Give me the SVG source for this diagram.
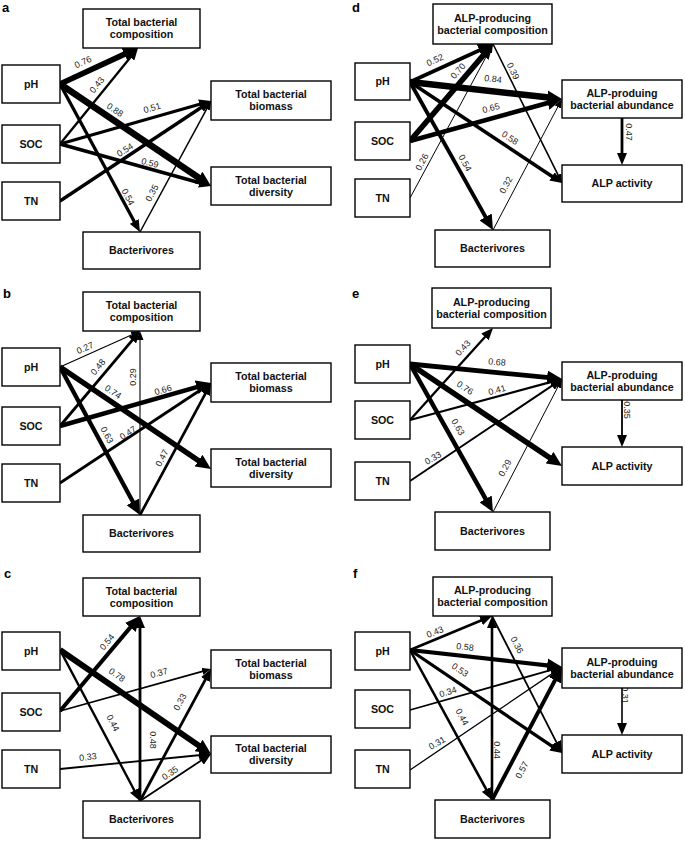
<svg xmlns="http://www.w3.org/2000/svg" width="685" height="842" viewBox="0 0 685 842">
<style>
.bx{fill:#fff;stroke:#000;stroke-width:1.4}
.nt{font-family:"Liberation Sans",Arial,sans-serif;font-weight:bold;font-size:10.7px;text-anchor:middle;fill:#111}
.el{font-family:"Liberation Sans",Arial,sans-serif;font-size:9px;text-anchor:middle;dominant-baseline:central;fill:#222}
.pl{font-family:"Liberation Sans",Arial,sans-serif;font-weight:bold;font-size:13px;fill:#000}
.c{fill:none;stroke:#000;stroke-linecap:butt}
.s{marker-end:url(#hs)}
.m{marker-end:url(#hm)}
.l{marker-end:url(#hl)}
</style>
<defs>
<marker id="hs" markerUnits="userSpaceOnUse" viewBox="0 0 9 7" markerWidth="9" markerHeight="7" refX="2" refY="3.5" orient="auto"><path d="M0,0 L9,3.5 L0,7 z" fill="#000"/></marker>
<marker id="hm" markerUnits="userSpaceOnUse" viewBox="0 0 12 10" markerWidth="12" markerHeight="10" refX="2" refY="5" orient="auto"><path d="M0,0 L12,5 L0,10 z" fill="#000"/></marker>
<marker id="hl" markerUnits="userSpaceOnUse" viewBox="0 0 15 14" markerWidth="15" markerHeight="14" refX="2" refY="7" orient="auto"><path d="M0,0 L15,7 L0,14 z" fill="#000"/></marker>
</defs>
<rect width="685" height="842" fill="#fff"/>

<g id="panel-letters">
<text class="pl" x="2" y="12">a</text>
<text class="pl" x="3" y="298">b</text>
<text class="pl" x="4" y="578">c</text>
<text class="pl" x="352" y="12">d</text>
<text class="pl" x="352" y="298">e</text>
<text class="pl" x="353" y="578">f</text>
</g>

<g id="connectors">
<!-- a -->
<path class="c l" stroke-width="5.6" d="M60,84 L126.2,53.4"/>
<path class="c m" stroke-width="2.3" d="M60,144 L131.7,55.8"/>
<path class="c l" stroke-width="6.5" d="M60,84 L200.2,178.7"/>
<path class="c m" stroke-width="3.1" d="M60,144 L201.4,103.7"/>
<path class="c m" stroke-width="3.6" d="M60,144 L201.4,183.3"/>
<path class="c m" stroke-width="3.3" d="M60,201 L202.7,106.5"/>
<path class="c m" stroke-width="3.3" d="M60,84 L135.2,223.2"/>
<path class="c s" stroke-width="1.5" d="M140,232 L207.7,107.2"/>
<!-- b -->
<path class="c s" stroke-width="1.1" d="M60,367 L133.6,333.9"/>
<path class="c m" stroke-width="2.8" d="M60,426 L133.6,338.6"/>
<path class="c s" stroke-width="1.1" d="M140,515 L140,338"/>
<path class="c l" stroke-width="5.4" d="M60,367 L200.2,461.7"/>
<path class="c l" stroke-width="4.6" d="M60,426 L198.5,386.6"/>
<path class="c m" stroke-width="2.7" d="M60,483 L202.7,388.5"/>
<path class="c l" stroke-width="4.3" d="M60,367 L133.8,503.6"/>
<path class="c m" stroke-width="2.7" d="M140,515 L206.3,391.8"/>
<!-- c -->
<path class="c l" stroke-width="4" d="M60,711 L131.6,625.9"/>
<path class="c m" stroke-width="2.8" d="M140,801 L140,626"/>
<path class="c l" stroke-width="6" d="M60,650 L200.3,746.6"/>
<path class="c s" stroke-width="1.7" d="M60,711 L204.3,670.9"/>
<path class="c m" stroke-width="2.4" d="M60,650 L135.3,792.2"/>
<path class="c m" stroke-width="2.8" d="M140,801 L206.3,677.8"/>
<path class="c m" stroke-width="1.8" d="M60,769 L201,755"/>
<path class="c m" stroke-width="1.8" d="M140,801 L202.7,759.5"/>
<!-- d -->
<path class="c l" stroke-width="3.8" d="M410,82 L481.2,49.4"/>
<path class="c l" stroke-width="5.5" d="M410,141 L484.5,53.9"/>
<path class="c s" stroke-width="1" d="M410,198 L489.7,50.2"/>
<path class="c l" stroke-width="6.5" d="M410,82 L549.1,97.6"/>
<path class="c l" stroke-width="4.5" d="M410,141 L549.5,102.5"/>
<path class="c m" stroke-width="3.6" d="M410,82 L553.7,177.5"/>
<path class="c l" stroke-width="3.8" d="M410,82 L486.6,218.7"/>
<path class="c s" stroke-width="1.6" d="M493,44 L558.9,176.7"/>
<path class="c s" stroke-width="1" d="M493,230 L558.7,105.2"/>
<path class="c m" stroke-width="2.8" d="M622,118 L622,155"/>
<!-- e -->
<path class="c m" stroke-width="2.3" d="M410,420 L486.3,335.4"/>
<path class="c l" stroke-width="4.8" d="M410,364 L549.1,377.7"/>
<path class="c l" stroke-width="5.6" d="M410,364 L551.2,458.8"/>
<path class="c m" stroke-width="2.2" d="M410,420 L552.3,381.6"/>
<path class="c l" stroke-width="4.5" d="M410,364 L486.6,500.7"/>
<path class="c m" stroke-width="1.9" d="M410,481 L553.7,384.6"/>
<path class="c s" stroke-width="1" d="M493,512 L558.8,385.2"/>
<path class="c m" stroke-width="1.8" d="M622,400 L622,437"/>
<!-- f -->
<path class="c m" stroke-width="2.6" d="M410,650 L482.8,619.8"/>
<path class="c l" stroke-width="4.2" d="M410,650 L549.1,665.6"/>
<path class="c m" stroke-width="3.3" d="M410,650 L553.7,747.4"/>
<path class="c m" stroke-width="1.8" d="M492,616 L557.4,744.1"/>
<path class="c m" stroke-width="1.8" d="M410,710 L552.4,669.7"/>
<path class="c m" stroke-width="2.6" d="M410,650 L487.2,791.2"/>
<path class="c s" stroke-width="1.3" d="M410,770 L556.2,670.9"/>
<path class="c m" stroke-width="2.6" d="M492,800 L492,626"/>
<path class="c l" stroke-width="3.9" d="M492,800 L555.9,678.5"/>
<path class="c m" stroke-width="1.6" d="M622,688 L622,725"/>
</g>

<g id="edge-labels">
<!-- a -->
<text class="el" transform="translate(83,62) rotate(-25)">0.76</text>
<text class="el" transform="translate(97,85) rotate(-51)">0.43</text>
<text class="el" transform="translate(115,110) rotate(34)">0.88</text>
<text class="el" transform="translate(152,108) rotate(-16)">0.51</text>
<text class="el" transform="translate(125,150) rotate(-33)">0.54</text>
<text class="el" transform="translate(150,163) rotate(15)">0.59</text>
<text class="el" transform="translate(128,197) rotate(62)">0.54</text>
<text class="el" transform="translate(152,193) rotate(-62)">0.35</text>
<!-- b -->
<text class="el" transform="translate(85,348) rotate(-24)">0.27</text>
<text class="el" transform="translate(98,367) rotate(-50)">0.48</text>
<text class="el" transform="translate(133,377) rotate(-90)">0.29</text>
<text class="el" transform="translate(163,390) rotate(-16)">0.66</text>
<text class="el" transform="translate(113,392) rotate(34)">0.74</text>
<text class="el" transform="translate(107,435) rotate(62)">0.63</text>
<text class="el" transform="translate(128,433) rotate(-33)">0.47</text>
<text class="el" transform="translate(162,458) rotate(-62)">0.47</text>
<!-- c -->
<text class="el" transform="translate(107,642) rotate(-50)">0.54</text>
<text class="el" transform="translate(117,675) rotate(35)">0.78</text>
<text class="el" transform="translate(159,673) rotate(-15)">0.37</text>
<text class="el" transform="translate(180,702) rotate(-62)">0.33</text>
<text class="el" transform="translate(113,723) rotate(62)">0.44</text>
<text class="el" transform="translate(153,740) rotate(90)">0.48</text>
<text class="el" transform="translate(88,757) rotate(-6)">0.33</text>
<text class="el" transform="translate(170,773) rotate(-34)">0.35</text>
<!-- d -->
<text class="el" transform="translate(435,60) rotate(-25)">0.52</text>
<text class="el" transform="translate(458,71) rotate(-49)">0.70</text>
<text class="el" transform="translate(493,79) rotate(6)">0.84</text>
<text class="el" transform="translate(513,71) rotate(64)">0.39</text>
<text class="el" transform="translate(491,108) rotate(-15)">0.65</text>
<text class="el" transform="translate(510,138) rotate(34)">0.58</text>
<text class="el" transform="translate(422,162) rotate(-62)">0.26</text>
<text class="el" transform="translate(465,163) rotate(61)">0.54</text>
<text class="el" transform="translate(506,185) rotate(-62)">0.32</text>
<text class="el" transform="translate(629,132) rotate(90)">0.47</text>
<!-- e -->
<text class="el" transform="translate(463,348) rotate(-47)">0.43</text>
<text class="el" transform="translate(497,362) rotate(5)">0.68</text>
<text class="el" transform="translate(465,388) rotate(34)">0.76</text>
<text class="el" transform="translate(497,390) rotate(-15)">0.41</text>
<text class="el" transform="translate(458,427) rotate(60)">0.63</text>
<text class="el" transform="translate(433,458) rotate(-30)">0.33</text>
<text class="el" transform="translate(505,468) rotate(-62)">0.29</text>
<text class="el" transform="translate(627,410) rotate(90)">0.35</text>
<!-- f -->
<text class="el" transform="translate(435,632) rotate(-22)">0.43</text>
<text class="el" transform="translate(465,647) rotate(6)">0.58</text>
<text class="el" transform="translate(517,645) rotate(63)">0.36</text>
<text class="el" transform="translate(460,670) rotate(34)">0.53</text>
<text class="el" transform="translate(448,692) rotate(-18)">0.34</text>
<text class="el" transform="translate(462,717) rotate(61)">0.44</text>
<text class="el" transform="translate(437,743) rotate(-30)">0.31</text>
<text class="el" transform="translate(497,750) rotate(90)">0.44</text>
<text class="el" transform="translate(522,770) rotate(-62)">0.57</text>
<text class="el" transform="translate(625,695) rotate(90)">0.31</text>
</g>

<!-- Panel a nodes -->
<g id="a-comp"><rect class="bx" x="83" y="9" width="117" height="39"/><text class="nt" x="141.5" y="26.3">Total bacterial</text><text class="nt" x="141.5" y="38.3">composition</text></g>
<g id="a-ph"><rect class="bx" x="2" y="65" width="58" height="38"/><text class="nt" x="31" y="87.8">pH</text></g>
<g id="a-soc"><rect class="bx" x="2" y="125" width="58" height="38"/><text class="nt" x="31" y="147.8">SOC</text></g>
<g id="a-tn"><rect class="bx" x="2" y="182" width="58" height="38"/><text class="nt" x="31" y="204.8">TN</text></g>
<g id="a-biomass"><rect class="bx" x="211" y="81" width="120" height="39"/><text class="nt" x="271" y="98.3">Total bacterial</text><text class="nt" x="271" y="110.3">biomass</text></g>
<g id="a-diversity"><rect class="bx" x="211" y="167" width="120" height="38"/><text class="nt" x="271" y="183.8">Total bacterial</text><text class="nt" x="271" y="195.8">diversity</text></g>
<g id="a-bact"><rect class="bx" x="83" y="232" width="117" height="37"/><text class="nt" x="141.5" y="254.3">Bacterivores</text></g>

<!-- Panel b nodes -->
<g id="b-comp"><rect class="bx" x="83" y="292" width="117" height="39"/><text class="nt" x="141.5" y="309.3">Total bacterial</text><text class="nt" x="141.5" y="321.3">composition</text></g>
<g id="b-ph"><rect class="bx" x="2" y="348" width="58" height="38"/><text class="nt" x="31" y="370.8">pH</text></g>
<g id="b-soc"><rect class="bx" x="2" y="407" width="58" height="38"/><text class="nt" x="31" y="429.8">SOC</text></g>
<g id="b-tn"><rect class="bx" x="2" y="464" width="58" height="38"/><text class="nt" x="31" y="486.8">TN</text></g>
<g id="b-biomass"><rect class="bx" x="211" y="363" width="120" height="39"/><text class="nt" x="271" y="380.3">Total bacterial</text><text class="nt" x="271" y="392.3">biomass</text></g>
<g id="b-diversity"><rect class="bx" x="211" y="449" width="120" height="38"/><text class="nt" x="271" y="465.8">Total bacterial</text><text class="nt" x="271" y="477.8">diversity</text></g>
<g id="b-bact"><rect class="bx" x="83" y="515" width="117" height="37"/><text class="nt" x="141.5" y="537.3">Bacterivores</text></g>

<!-- Panel c nodes -->
<g id="c-comp"><rect class="bx" x="83" y="578" width="117" height="38"/><text class="nt" x="141.5" y="594.8">Total bacterial</text><text class="nt" x="141.5" y="606.8">composition</text></g>
<g id="c-ph"><rect class="bx" x="2" y="632" width="58" height="38"/><text class="nt" x="31" y="654.8">pH</text></g>
<g id="c-soc"><rect class="bx" x="2" y="693" width="58" height="38"/><text class="nt" x="31" y="715.8">SOC</text></g>
<g id="c-tn"><rect class="bx" x="2" y="750" width="58" height="38"/><text class="nt" x="31" y="772.8">TN</text></g>
<g id="c-biomass"><rect class="bx" x="211" y="650" width="120" height="38"/><text class="nt" x="271" y="666.8">Total bacterial</text><text class="nt" x="271" y="678.8">biomass</text></g>
<g id="c-diversity"><rect class="bx" x="211" y="736" width="120" height="37"/><text class="nt" x="271" y="752.3">Total bacterial</text><text class="nt" x="271" y="764.3">diversity</text></g>
<g id="c-bact"><rect class="bx" x="83" y="801" width="117" height="37"/><text class="nt" x="141.5" y="823.3">Bacterivores</text></g>

<!-- Panel d nodes -->
<g id="d-comp"><rect class="bx" x="433" y="4" width="119" height="40"/><text class="nt" x="492.5" y="21.8">ALP-producing</text><text class="nt" x="492.5" y="33.8">bacterial composition</text></g>
<g id="d-ph"><rect class="bx" x="355" y="63" width="55" height="37"/><text class="nt" x="382.5" y="85.3">pH</text></g>
<g id="d-soc"><rect class="bx" x="355" y="122" width="55" height="38"/><text class="nt" x="382.5" y="144.8">SOC</text></g>
<g id="d-tn"><rect class="bx" x="355" y="179" width="55" height="38"/><text class="nt" x="382.5" y="201.8">TN</text></g>
<g id="d-abund"><rect class="bx" x="562" y="80" width="120" height="38"/><text class="nt" x="622" y="96.8">ALP-produing</text><text class="nt" x="622" y="108.8">bacterial abundance</text></g>
<g id="d-activity"><rect class="bx" x="562" y="165" width="120" height="37"/><text class="nt" x="622" y="187.3">ALP activity</text></g>
<g id="d-bact"><rect class="bx" x="435" y="230" width="115" height="37"/><text class="nt" x="492.5" y="252.3">Bacterivores</text></g>

<!-- Panel e nodes -->
<g id="e-comp"><rect class="bx" x="432" y="288" width="119" height="40"/><text class="nt" x="491.5" y="305.8">ALP-producing</text><text class="nt" x="491.5" y="317.8">bacterial composition</text></g>
<g id="e-ph"><rect class="bx" x="355" y="345" width="55" height="38"/><text class="nt" x="382.5" y="367.8">pH</text></g>
<g id="e-soc"><rect class="bx" x="355" y="401" width="55" height="38"/><text class="nt" x="382.5" y="423.8">SOC</text></g>
<g id="e-tn"><rect class="bx" x="355" y="462" width="55" height="38"/><text class="nt" x="382.5" y="484.8">TN</text></g>
<g id="e-abund"><rect class="bx" x="562" y="362" width="120" height="38"/><text class="nt" x="622" y="378.8">ALP-produing</text><text class="nt" x="622" y="390.8">bacterial abundance</text></g>
<g id="e-activity"><rect class="bx" x="562" y="447" width="120" height="38"/><text class="nt" x="622" y="469.8">ALP activity</text></g>
<g id="e-bact"><rect class="bx" x="435" y="512" width="115" height="38"/><text class="nt" x="492.5" y="534.8">Bacterivores</text></g>

<!-- Panel f nodes -->
<g id="f-comp"><rect class="bx" x="433" y="577" width="119" height="39"/><text class="nt" x="492.5" y="594.3">ALP-producing</text><text class="nt" x="492.5" y="606.3">bacterial composition</text></g>
<g id="f-ph"><rect class="bx" x="355" y="632" width="55" height="38"/><text class="nt" x="382.5" y="654.8">pH</text></g>
<g id="f-soc"><rect class="bx" x="355" y="690" width="55" height="38"/><text class="nt" x="382.5" y="712.8">SOC</text></g>
<g id="f-tn"><rect class="bx" x="355" y="750" width="55" height="38"/><text class="nt" x="382.5" y="772.8">TN</text></g>
<g id="f-abund"><rect class="bx" x="562" y="648" width="120" height="40"/><text class="nt" x="622" y="665.8">ALP-produing</text><text class="nt" x="622" y="677.8">bacterial abundance</text></g>
<g id="f-activity"><rect class="bx" x="562" y="735" width="120" height="38"/><text class="nt" x="622" y="757.8">ALP activity</text></g>
<g id="f-bact"><rect class="bx" x="435" y="800" width="115" height="38"/><text class="nt" x="492.5" y="822.8">Bacterivores</text></g>
</svg>
